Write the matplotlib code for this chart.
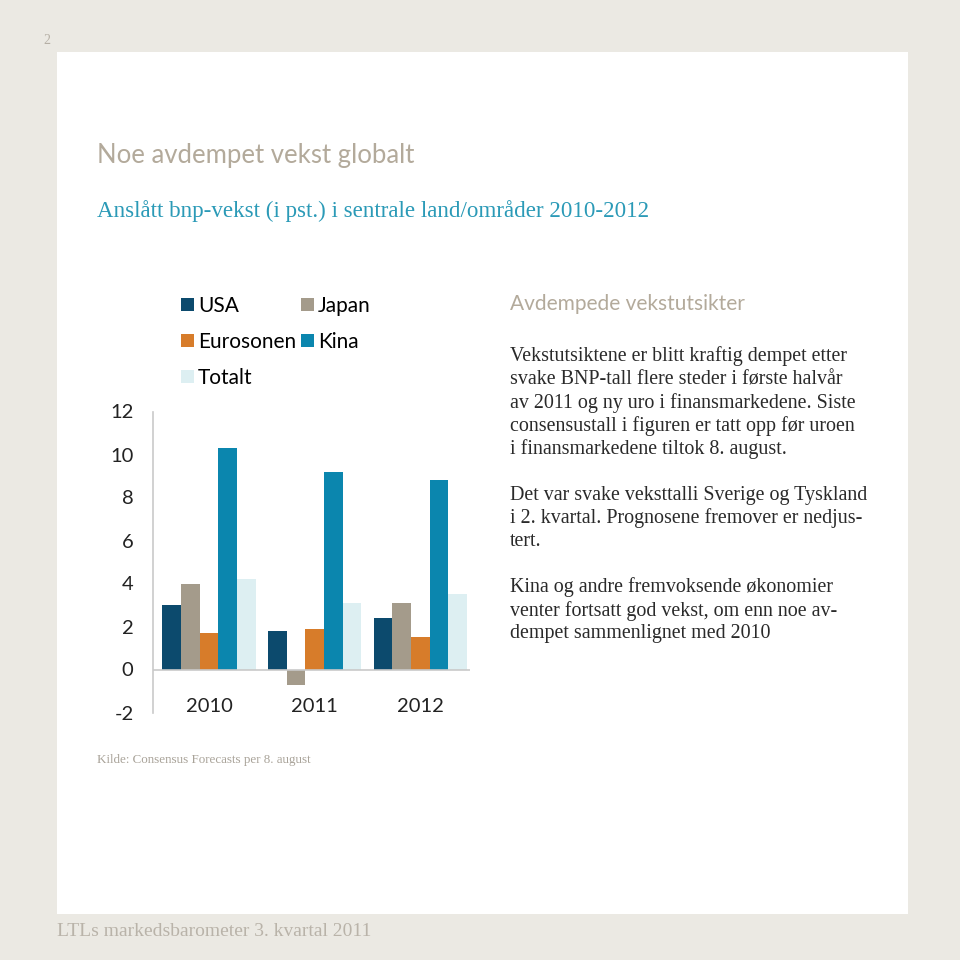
import matplotlib.pyplot as plt
import matplotlib.patches as mpatches
import numpy as np

# Data: forecast GDP growth (%) per region, 2010-2012
years = ["2010", "2011", "2012"]
usa = [3.0, 1.8, 2.4]
japan = [4.0, -0.7, 3.1]
eurosonen = [1.7, 1.9, 1.5]
kina = [10.3, 9.2, 8.8]
totalt = [4.2, 3.1, 3.5]

series_names = ["USA", "Japan", "Eurosonen", "Kina", "Totalt"]
series_vals = [usa, japan, eurosonen, kina, totalt]
series_colors = ["#0c4a6d", "#a49b8b", "#d77c2a", "#0b86ae", "#ddeff2"]

y_ticks = [-2, 0, 2, 4, 6, 8, 10, 12]

body_lines = [
    "Vekstutsiktene er blitt kraftig dempet etter",
    "svake BNP-tall flere steder i første halvår",
    "av 2011 og ny uro i finansmarkedene. Siste",
    "consensustall i figuren er tatt opp før uroen",
    "i finansmarkedene tiltok 8. august.",
    "",
    "Det var svake veksttalli Sverige og Tyskland",
    "i 2. kvartal. Prognosene fremover er nedjus-",
    "tert.",
    "",
    "Kina og andre fremvoksende økonomier",
    "venter fortsatt god vekst, om enn noe av-",
    "dempet sammenlignet med 2010",
]

W = 960
fig = plt.figure(figsize=(9.6, 9.6), dpi=100)
fig.patch.set_facecolor("#ebe9e3")

# white page panel
fig.patches.append(mpatches.Rectangle((57 / W, 1 - 914 / W), (908 - 57) / W, (914 - 52) / W,
                                      transform=fig.transFigure, facecolor="white",
                                      edgecolor="none", zorder=-5))

fig.text(47 / W, 1 - 41 / W, "2", fontsize=10, color="#b5afa5",
         family="Liberation Serif", ha="center", va="center")

fig.text(97 / W, 1 - 155 / W, "Noe avdempet vekst globalt", fontsize=18.5,
         color="#b3aa9b", family="Lato", va="center")
fig.text(97 / W, 1 - 211 / W, "Anslått bnp-vekst (i pst.) i sentrale land/områder 2010-2012",
         fontsize=16.6, color="#2b9ab7", family="Liberation Serif", va="center")

# chart
ax = fig.add_axes([153 / W, 1 - 712.5 / W, 317 / W, 301 / W])
ax.set_facecolor("none")
x = np.arange(len(years))
bw = 0.177
for i, (name, vals, col) in enumerate(zip(series_names, series_vals, series_colors)):
    ax.bar(x + (i - 2) * bw, vals, width=bw, color=col, label=name, zorder=2)

ax.set_xlim(-0.53, 2.47)
ax.set_ylim(-2, 12)
ax.axhline(0, color="#c9c9c9", lw=1.2, zorder=3)
for s in ["top", "right", "bottom"]:
    ax.spines[s].set_visible(False)
ax.spines["left"].set_color("#c9c9c9")
ax.spines["left"].set_linewidth(1.2)
ax.set_yticks(y_ticks)
ax.set_yticklabels([str(t) for t in y_ticks], family="Lato", fontsize=14.5, color="#222222")
ax.tick_params(axis="y", length=0, pad=14)
ax.set_xticks([])
for xi, yr in zip(x, years):
    ax.text(xi, -1.72, yr, ha="center", va="center", family="Lato", fontsize=14.5,
            color="#222222")

handles, labels = ax.get_legend_handles_labels()
order = [0, 2, 4, 1, 3]
ax.legend([handles[k] for k in order], [labels[k] for k in order], ncol=2,
          loc="upper left", bbox_to_anchor=(171 / W, 1 - 285.5 / W),
          bbox_transform=fig.transFigure, frameon=False, borderpad=0,
          handlelength=0.6, handleheight=0.6, handletextpad=0.2, columnspacing=0.25,
          labelspacing=0.76, prop={"family": "Lato", "size": 15})

# right-hand text
fig.text(510 / W, 1 - 304 / W, "Avdempede vekstutsikter", fontsize=15,
         color="#b3aa9b", family="Lato", va="center")
for k, line in enumerate(body_lines):
    if line:
        fig.text(510 / W, 1 - (356.5 + k * 23.1) / W, line, fontsize=14.4,
                 color="#2a2a2a", family="Liberation Serif", va="center")

fig.text(97 / W, 1 - 760 / W, "Kilde: Consensus Forecasts per 8. august", fontsize=9.4,
         color="#a9a399", family="Liberation Serif", va="center")
fig.text(57 / W, 1 - 932 / W, "LTLs markedsbarometer 3. kvartal 2011", fontsize=14,
         color="#b9b3a9", family="Liberation Serif", va="center")

fig.savefig("out.png", dpi=100, facecolor=fig.get_facecolor())
